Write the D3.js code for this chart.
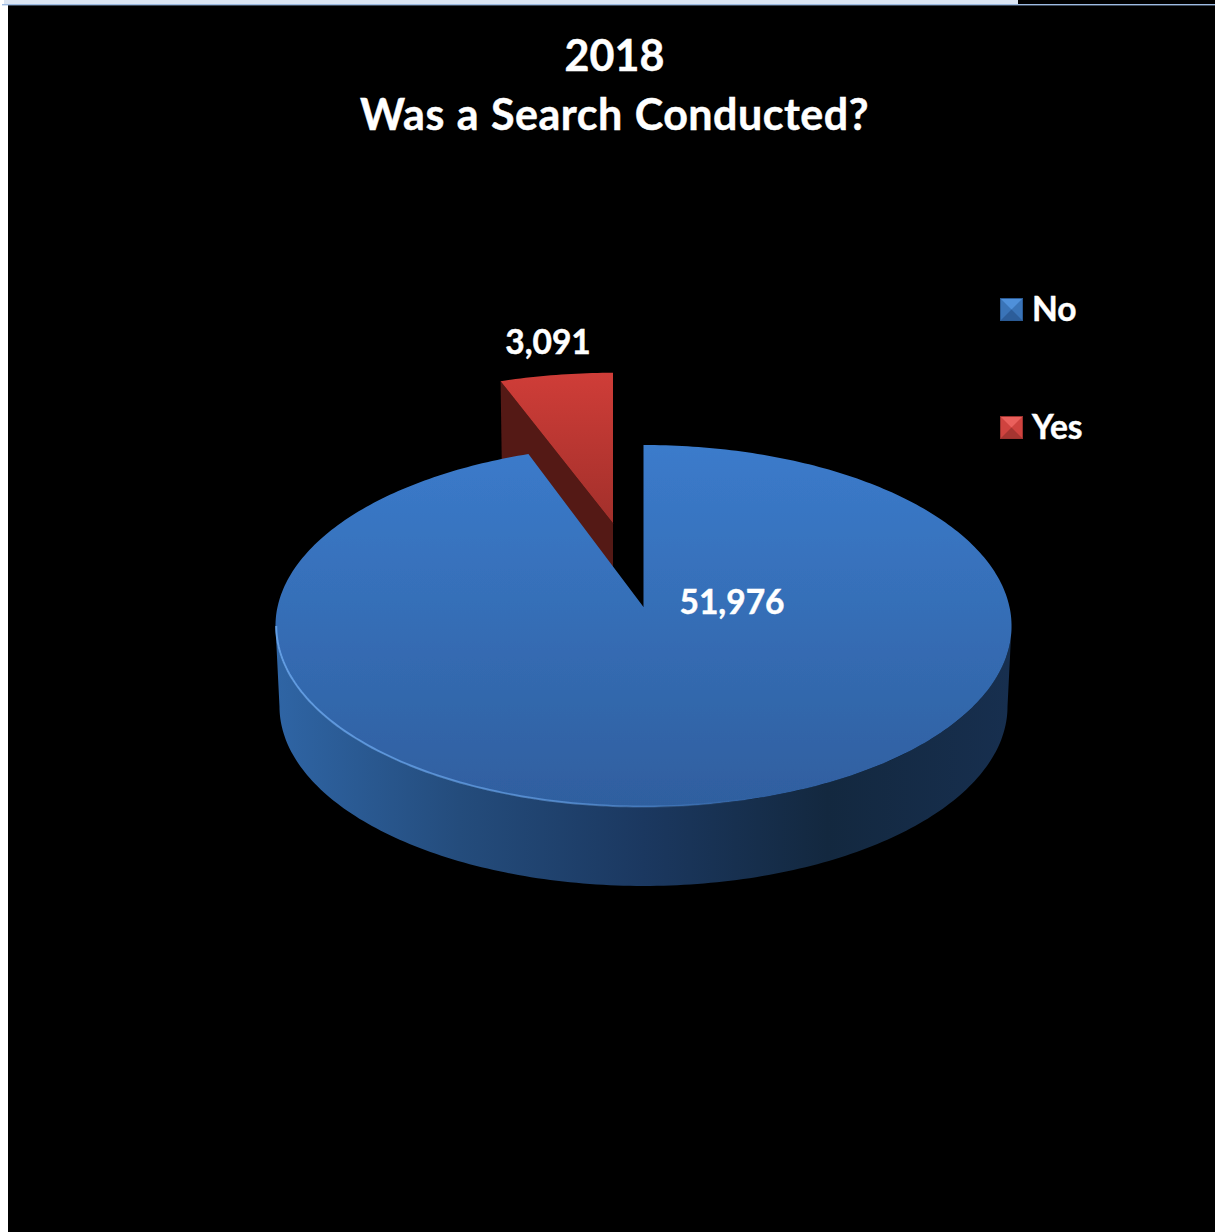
<!DOCTYPE html>
<html>
<head>
<meta charset="utf-8">
<script src="https://d3js.org/d3.v7.min.js"></script>
<style>
  html, body { margin: 0; padding: 0; background: #fff; }
  svg { display: block; }
  text { font-family: Lato, "Open Sans", sans-serif; font-weight: 700; fill: #fff; stroke: #fff; stroke-width: 0.45px; }
</style>
</head>
<body>
<svg id="chart" width="1215" height="1232"></svg>
<script>
// Search outcomes for 2018
const titleLines = ["2018", "Was a Search Conducted?"];
const categories = ["No", "Yes"];
const searchCounts = [51976, 3091];
const faceTopColors = ["#3b7bcb", "#cf3d38"];
const faceBottomColors = ["#2f5f9f", "#a02f2a"];
// Bevel shades of the legend keys: top, sides, bottom, outline
const keyShades = [
  ["#4f90da", "#3a74b8", "#2c5d9a", "#2a5a94"],
  ["#ea605c", "#cf433f", "#a53531", "#9c322e"]
];

const svg = d3.select("#chart");
const defs = svg.append("defs");
const numberFormat = d3.format(",");

// Page frame around the black chart area
svg.append("rect").attr("width", 1215).attr("height", 1232).attr("fill", "#fff");
svg.append("rect").attr("x", 8).attr("y", 0).attr("width", 1207).attr("height", 1232).attr("fill", "#000");
svg.append("rect").attr("x", 4).attr("width", 1014).attr("height", 4).attr("fill", "#dbe5f3");
svg.append("rect").attr("x", 2).attr("y", 4).attr("width", 1213).attr("height", 1.4).attr("fill", "#9dbbe3");

// Perspective projection of the unit disc onto the screen
const tilt = 0.105;
const topDisc = { x0: 643.5, y0: 607, a: 366, b: 179 };
const baseDisc = { x0: 643.5, y0: 687.6, a: 362, b: 177.5 };
const yesTopDisc = { ...topDisc, x0: 613 };
const yesBaseDisc = { ...baseDisc, x0: 613 };
const project = (disc, u, v) => {
  const w = 1 + tilt * v;
  return [disc.x0 + disc.a * u / w, disc.y0 - disc.b * v / w];
};
// Point at a clockwise angle from north, pushed back along the depth axis
const polar = (disc, angle, radius, push) =>
  project(disc, radius * Math.sin(angle), radius * Math.cos(angle) + push);

const pieLayout = d3.pie().sort(null).startAngle(0).endAngle(2 * Math.PI);
const slices = pieLayout(searchCounts);
const explodeDepth = 0.492;
const yesRadius = 1.025;
const line = d3.line();

const arcPoints = (disc, a0, a1, radius, push) => {
  const n = Math.max(4, Math.ceil((a1 - a0) * 60));
  return d3.range(n + 1).map(i => polar(disc, a0 + (a1 - a0) * i / n, radius, push));
};
const facePath = (disc, s, radius, push) =>
  line([polar(disc, 0, 0, push), ...arcPoints(disc, s.startAngle, s.endAngle, radius, push)]) + "Z";

function verticalGradient(id, c0, c1, y0, y1) {
  const g = defs.append("linearGradient").attr("id", id)
    .attr("gradientUnits", "userSpaceOnUse")
    .attr("x1", 0).attr("x2", 0).attr("y1", y0).attr("y2", y1);
  g.append("stop").attr("offset", 0).attr("stop-color", c0);
  g.append("stop").attr("offset", 1).attr("stop-color", c1);
}
verticalGradient("faceNo", faceTopColors[0], faceBottomColors[0], 445, 807);
verticalGradient("faceYes", faceTopColors[1], faceBottomColors[1], 373, 530);

// Outer wall shading runs from lit on the left to dark on the right
const wall = defs.append("linearGradient").attr("id", "wallNo")
  .attr("gradientUnits", "userSpaceOnUse")
  .attr("x1", 275).attr("x2", 1012).attr("y1", 0).attr("y2", 0);
[[0, "#2f65a5"], [0.25, "#244c7c"], [0.5, "#1b3860"], [0.75, "#13283f"], [1, "#172f4f"]]
  .forEach(([o, c]) => wall.append("stop").attr("offset", o).attr("stop-color", c));

const rim = defs.append("linearGradient").attr("id", "rimNo")
  .attr("gradientUnits", "userSpaceOnUse")
  .attr("x1", 275).attr("x2", 760).attr("y1", 0).attr("y2", 0);
rim.append("stop").attr("offset", 0).attr("stop-color", "#6aa6ec").attr("stop-opacity", 0.85);
rim.append("stop").attr("offset", 0.6).attr("stop-color", "#6aa6ec").attr("stop-opacity", 0.6);
rim.append("stop").attr("offset", 1).attr("stop-color", "#6aa6ec").attr("stop-opacity", 0);
const soften = defs.append("filter").attr("id", "soft")
  .attr("x", "-5%").attr("y", "-5%").attr("width", "110%").attr("height", "110%");
soften.append("feGaussianBlur").attr("stdDeviation", 0.6);

const noSlice = slices[0];
const yesSlice = slices[1];

// Exploded slice: cut wall first, then its top face
svg.append("path")
  .attr("d", line([
    polar(yesTopDisc, yesSlice.startAngle, yesRadius, explodeDepth),
    polar(yesTopDisc, 0, 0, explodeDepth),
    polar(yesBaseDisc, 0, 0, explodeDepth),
    polar(yesBaseDisc, yesSlice.startAngle, yesRadius, explodeDepth)
  ]) + "Z")
  .attr("fill", "#541915");
svg.append("path")
  .attr("d", facePath(yesTopDisc, yesSlice, yesRadius, explodeDepth))
  .attr("fill", "url(#faceYes)");

// Main slice: outer wall between the two widest points of the rim
const widest = Math.asin(tilt);
const wallStart = Math.PI / 2 + widest;
const wallEnd = 3 * Math.PI / 2 - widest;
const frontTop = arcPoints(topDisc, wallStart, wallEnd, 1, 0);
const frontBase = arcPoints(baseDisc, wallStart, wallEnd, 1, 0).reverse();
svg.append("path").attr("d", line([...frontTop, ...frontBase]) + "Z").attr("fill", "url(#wallNo)");
svg.append("path")
  .attr("d", facePath(topDisc, noSlice, 1, 0))
  .attr("fill", "url(#faceNo)")
  .attr("filter", "url(#soft)");
svg.append("path")
  .attr("d", line(arcPoints(topDisc, Math.PI * 0.75, wallEnd, 0.998, 0)))
  .attr("fill", "none").attr("stroke", "url(#rimNo)").attr("stroke-width", 2)
  .attr("filter", "url(#soft)");

// Title
const titleSpacing = [0, 0.5];
svg.append("g").selectAll("text").data(titleLines).join("text")
  .attr("x", 614.5)
  .attr("y", (d, i) => 71 + i * 59)
  .attr("text-anchor", "middle")
  .attr("font-size", 43)
  .attr("letter-spacing", (d, i) => titleSpacing[i])
  .attr("word-spacing", 1)
  .text(d => d);

// Value labels
const labelPos = [[732, 614], [548, 354]];
svg.append("g").selectAll("text").data(searchCounts).join("text")
  .attr("x", (d, i) => labelPos[i][0])
  .attr("y", (d, i) => labelPos[i][1])
  .attr("text-anchor", "middle")
  .attr("font-size", 33.5)
  .text(d => numberFormat(d));

// Legend with bevelled keys
const legendY = d3.scalePoint().domain(categories).range([298, 416]);
const legend = svg.append("g").selectAll("g").data(categories).join("g")
  .attr("transform", d => `translate(1000,${legendY(d)})`);
legend.each(function (d, i) {
  const g = d3.select(this);
  const s = 23, c = 11.5, shades = keyShades[i];
  g.append("rect").attr("width", s).attr("height", s).attr("fill", shades[1]);
  g.append("path").attr("d", line([[1, 1], [s - 1, 1], [c, c]]) + "Z").attr("fill", shades[0]);
  g.append("path").attr("d", line([[1, s - 1], [c, c], [s - 1, s - 1]]) + "Z").attr("fill", shades[2]);
  g.append("rect").attr("x", 0.5).attr("y", 0.5).attr("width", s - 1).attr("height", s - 1)
    .attr("fill", "none").attr("stroke", shades[3]);
  g.append("text").attr("x", 32).attr("y", 23).attr("font-size", 33.5).text(d);
});
</script>
</body>
</html>
